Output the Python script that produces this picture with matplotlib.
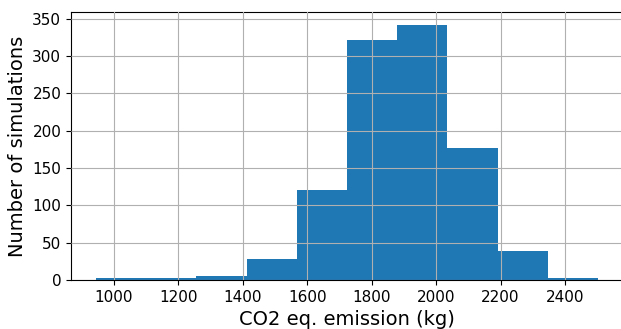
import numpy as np
import matplotlib
matplotlib.use("Agg")
import matplotlib.pyplot as plt

# histogram of simulated emissions
bin_edges = [945, 1101, 1256, 1412, 1568, 1724, 1879, 2035, 2191, 2346, 2502]
counts = [2, 2, 6, 28, 120, 321, 342, 177, 39, 2]

edges = np.array(bin_edges)
centers = (edges[:-1] + edges[1:]) / 2

fig = plt.figure(figsize=(6.21, 3.29), dpi=100)
ax = fig.add_axes([0.1143, 0.149, 0.889, 0.8145])
ax.hist(centers, bins=edges, weights=counts, color='#1f77b4')
ax.grid(True, color='#b0b0b0', linewidth=0.8)
ax.set_axisbelow(False)
ax.set_xticks([1000, 1200, 1400, 1600, 1800, 2000, 2200, 2400])
ax.tick_params(labelsize=11)
ax.set_xlabel('CO2 eq. emission (kg)', fontsize=14)
ax.set_ylabel('Number of simulations', fontsize=14)
fig.savefig('out.png', dpi=100)
